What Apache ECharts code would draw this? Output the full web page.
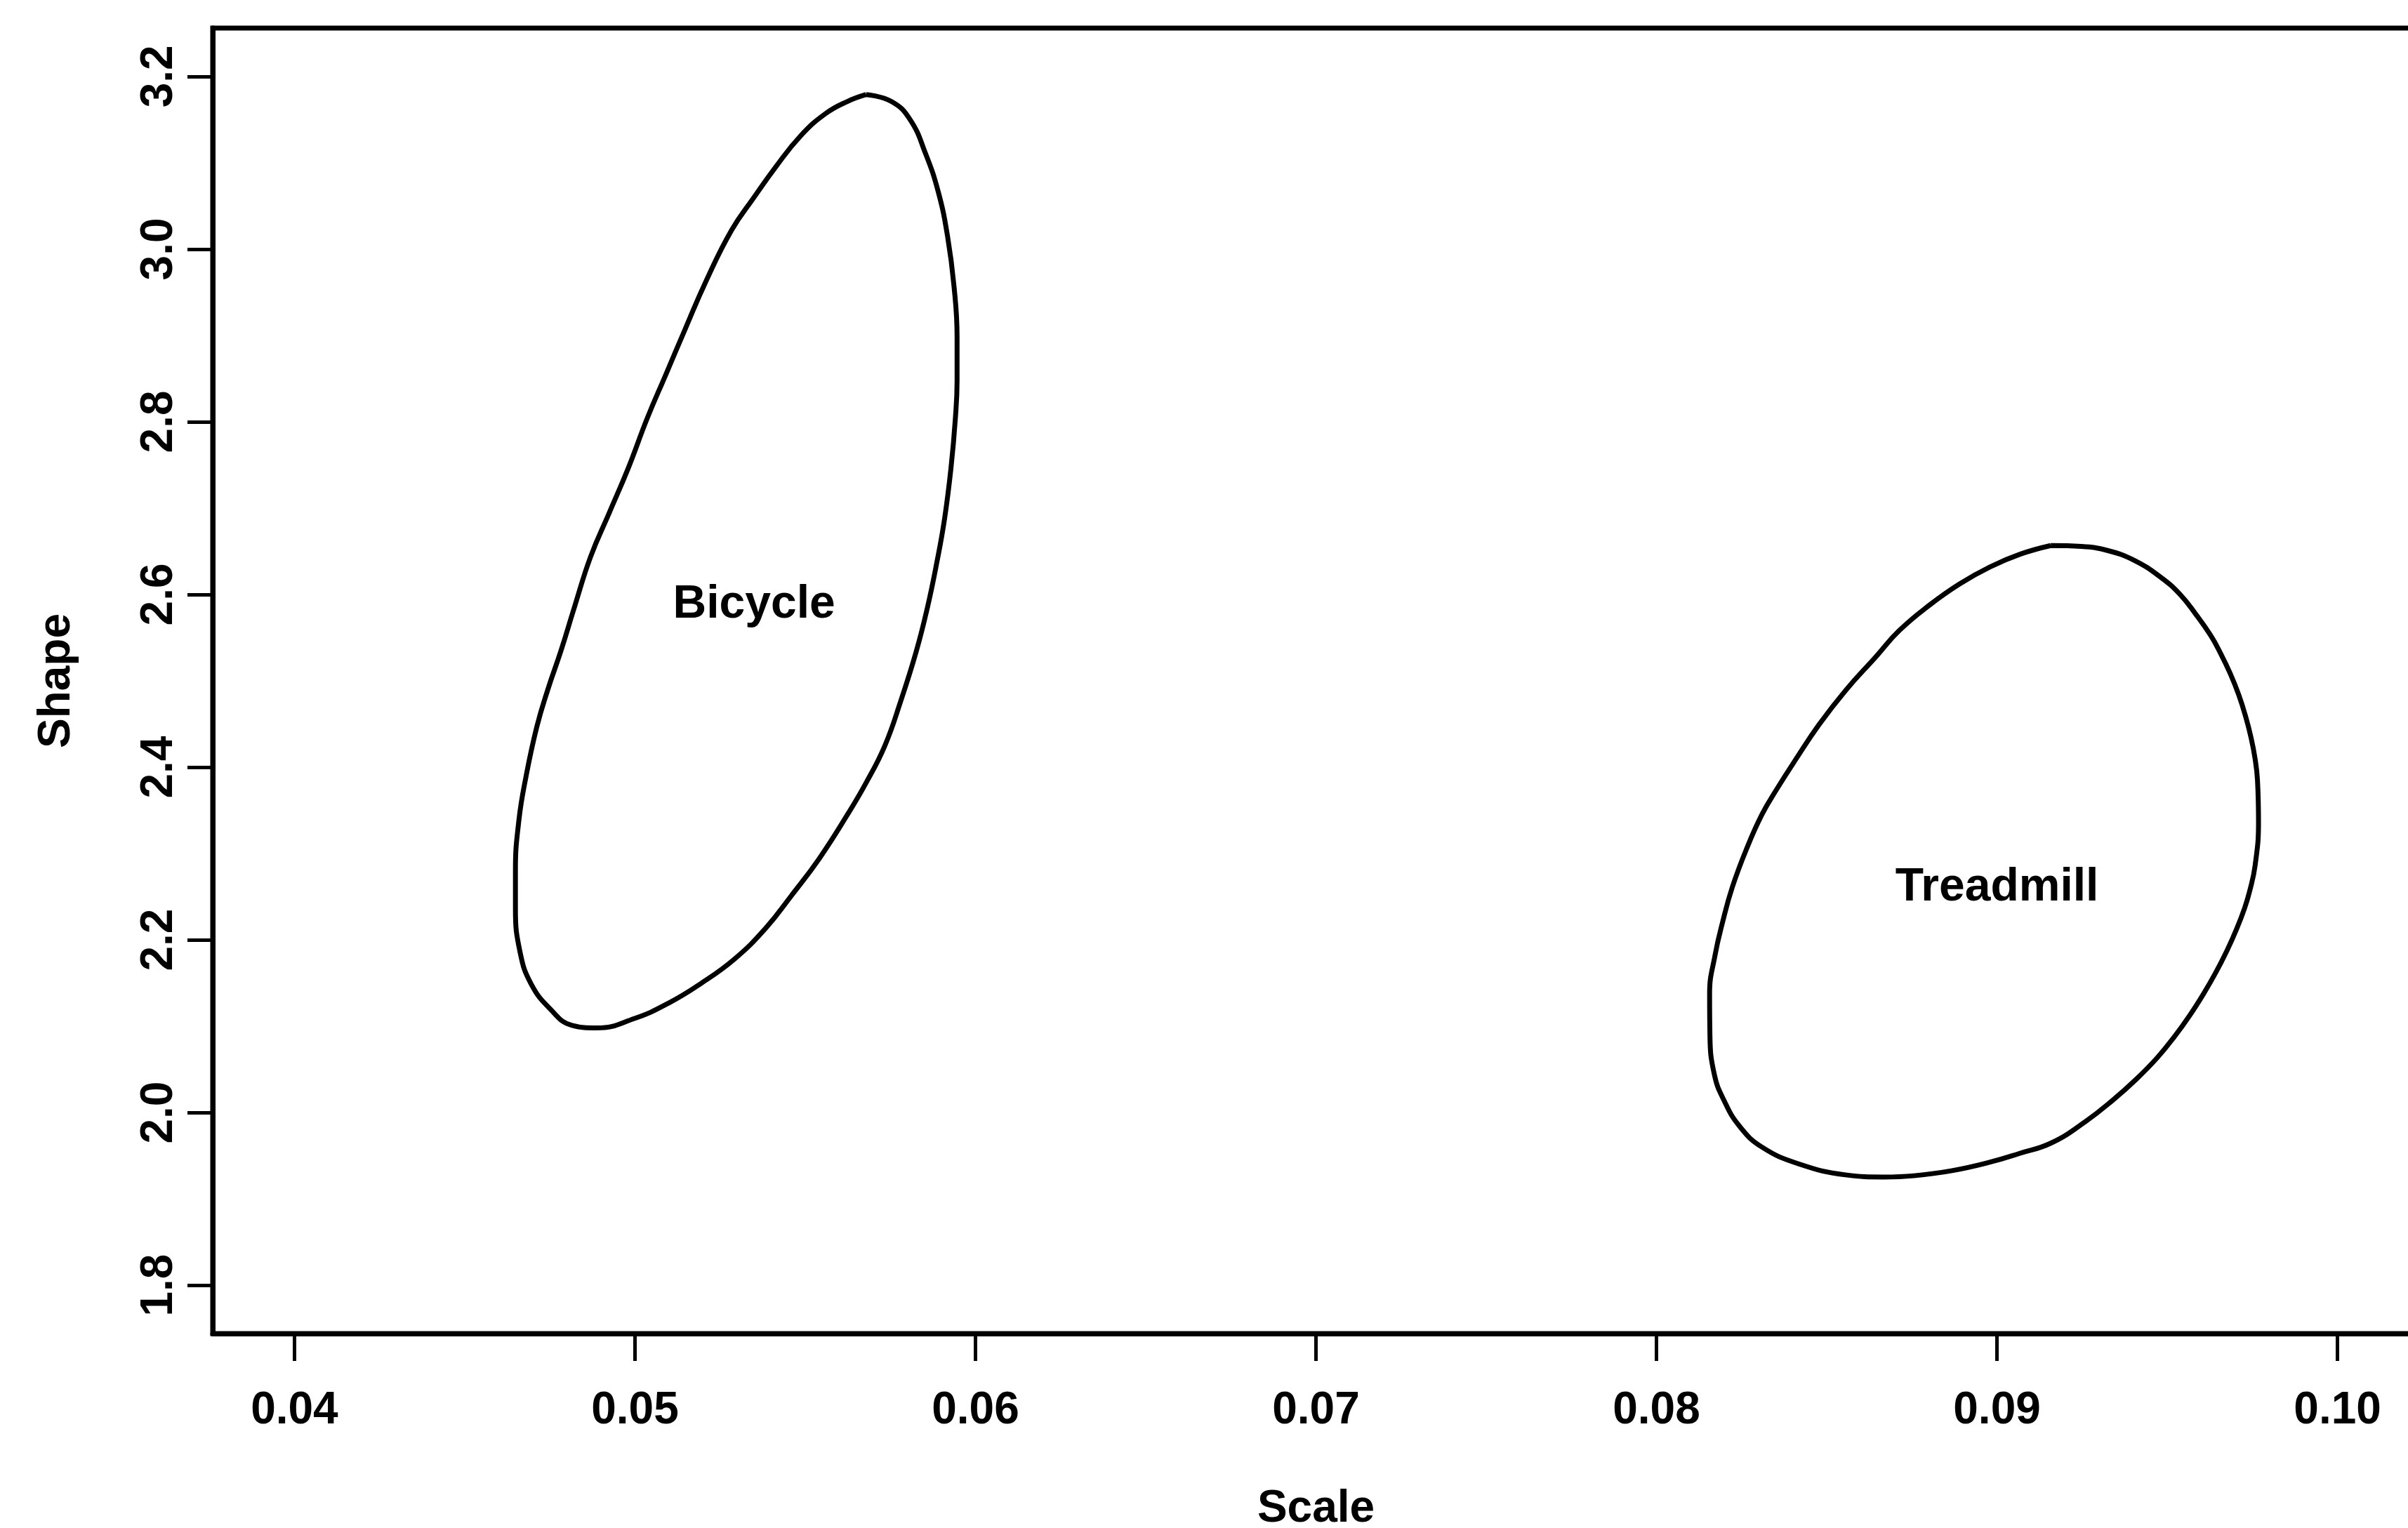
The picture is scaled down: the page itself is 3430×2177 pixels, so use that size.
<!DOCTYPE html>
<html>
<head>
<meta charset="utf-8">
<title>Scale vs Shape</title>
<script src="https://cdn.jsdelivr.net/npm/echarts@6/dist/echarts.min.js"></script>
<style>
  html, body { margin: 0; padding: 0; background: #ffffff; }
  #chart { width: 3430px; height: 2177px; }
</style>
</head>
<body>
<div id="chart"></div>
<script>
// Axis ticks
const xTicks = [0.04, 0.05, 0.06, 0.07, 0.08, 0.09, 0.10];
const yTicks = [1.8, 2.0, 2.2, 2.4, 2.6, 2.8, 3.0, 3.2];

// Confidence contour for the bicycle group (scale, shape), traced clockwise from the top
const bicycleScale = [
  0.05679, 0.05753, 0.05808, 0.05854, 0.05891, 0.05918, 0.05937, 0.05946, 0.05946, 0.05941,
  0.05928, 0.05909, 0.05886, 0.05859, 0.05826, 0.05780, 0.05734, 0.05679, 0.05624, 0.05541,
  0.05459, 0.05385, 0.05293, 0.05192, 0.05100, 0.04999, 0.04888, 0.04815, 0.04751, 0.04695,
  0.04663, 0.04649, 0.04649, 0.04659, 0.04680, 0.04712, 0.04745, 0.04782, 0.04822, 0.04870,
  0.04925, 0.04980, 0.05036, 0.05091, 0.05146, 0.05210, 0.05284, 0.05348, 0.05413, 0.05486,
  0.05560, 0.05624
];
const bicycleShape = [
  3.179, 3.171, 3.150, 3.110, 3.066, 3.015, 2.957, 2.898, 2.848, 2.804,
  2.746, 2.687, 2.636, 2.585, 2.534, 2.476, 2.425, 2.382, 2.345, 2.294,
  2.251, 2.214, 2.178, 2.149, 2.127, 2.109, 2.098, 2.101, 2.120, 2.149,
  2.185, 2.236, 2.280, 2.338, 2.389, 2.447, 2.491, 2.534, 2.585, 2.644,
  2.695, 2.746, 2.804, 2.855, 2.906, 2.964, 3.022, 3.059, 3.095, 3.131,
  3.157, 3.171
];

// Confidence contour for the treadmill group (scale, shape), traced clockwise from the top
const treadmillScale = [
  0.09158, 0.09248, 0.09326, 0.09404, 0.09482, 0.09538, 0.09583, 0.09627, 0.09655, 0.09685,
  0.09710, 0.09730, 0.09746, 0.09758, 0.09765, 0.09768, 0.09758, 0.09742, 0.09727, 0.09703,
  0.09675, 0.09643, 0.09607, 0.09567, 0.09522, 0.09471, 0.09410, 0.09340, 0.09260, 0.09160,
  0.09065, 0.08980, 0.08868, 0.08756, 0.08667, 0.08555, 0.08421, 0.08310, 0.08243, 0.08198,
  0.08170, 0.08157, 0.08156, 0.08172, 0.08195, 0.08223, 0.08265, 0.08310, 0.08354, 0.08410,
  0.08477, 0.08555, 0.08645, 0.08712, 0.08801, 0.08890, 0.08980, 0.09069
];
const treadmillShape = [
  2.6567, 2.6557, 2.6508, 2.6394, 2.6196, 2.5999, 2.5776, 2.5529, 2.5331, 2.5084,
  2.4837, 2.4590, 2.4343, 2.4096, 2.3849, 2.3355, 2.2861, 2.2564, 2.2366, 2.2119,
  2.1872, 2.1625, 2.1378, 2.1131, 2.0884, 2.0637, 2.0390, 2.0143, 1.9896, 1.9649,
  1.9525, 1.9426, 1.9327, 1.9268, 1.9253, 1.9278, 1.9401, 1.9599, 1.9846, 2.0143,
  2.0439, 2.0884, 2.1378, 2.1823, 2.2218, 2.2614, 2.3058, 2.3454, 2.3750, 2.4096,
  2.4491, 2.4887, 2.5282, 2.5579, 2.5875, 2.6122, 2.6320, 2.6468
];

// Group labels placed inside each contour
const groupNames = ['Bicycle', 'Treadmill'];
const labelScale = [0.05350, 0.09000];
const labelShape = [2.588, 2.260];

// Join scale/shape pairs and close the loop
function closedLoop(xs, ys) {
  const pts = xs.map((x, i) => [x, ys[i]]);
  pts.push(pts[0].slice());
  return pts;
}

const FONT = '"Liberation Sans", Arial, Helvetica, sans-serif';
const INK = '#000000';

const chart = echarts.init(document.getElementById('chart'), null, { renderer: 'canvas' });

const contourStyle = {
  type: 'line',
  smooth: 0.45,
  showSymbol: false,
  symbol: 'none',
  silent: true,
  lineStyle: { color: INK, width: 7 },
  z: 3
};

chart.setOption({
  animation: false,
  backgroundColor: '#ffffff',
  grid: {
    left: 303,
    right: -16,
    top: 40,
    bottom: 277,
    outerBoundsMode: 'none',
    show: true,
    borderColor: INK,
    borderWidth: 7,
    backgroundColor: 'transparent'
  },
  xAxis: {
    type: 'value',
    min: 0.0376,
    max: 0.1024,
    name: 'Scale',
    nameLocation: 'middle',
    nameGap: 218,
    nameTextStyle: { color: INK, fontSize: 64, fontWeight: 'bold', fontFamily: FONT },
    axisLine: { show: true, onZero: false, lineStyle: { color: INK, width: 7 } },
    axisTick: { show: true, customValues: xTicks, length: 39, lineStyle: { color: INK, width: 5 } },
    axisLabel: {
      customValues: xTicks,
      margin: 78,
      color: INK,
      fontSize: 64,
      fontWeight: 'bold',
      fontFamily: FONT,
      formatter: v => Number(v).toFixed(2)
    },
    splitLine: { show: false }
  },
  yAxis: {
    type: 'value',
    min: 1.744,
    max: 3.256,
    name: 'Shape',
    nameLocation: 'middle',
    nameGap: 190,
    nameTextStyle: { color: INK, fontSize: 64, fontWeight: 'bold', fontFamily: FONT },
    axisLine: { show: true, onZero: false, lineStyle: { color: INK, width: 7 } },
    axisTick: { show: true, customValues: yTicks, length: 36, lineStyle: { color: INK, width: 5 } },
    axisLabel: {
      customValues: yTicks,
      rotate: 90,
      margin: 44,
      color: INK,
      fontSize: 64,
      fontWeight: 'bold',
      fontFamily: FONT,
      formatter: v => Number(v).toFixed(1)
    },
    splitLine: { show: false }
  },
  series: [
    Object.assign({ name: 'Bicycle', data: closedLoop(bicycleScale, bicycleShape) }, contourStyle),
    Object.assign({ name: 'Treadmill', data: closedLoop(treadmillScale, treadmillShape) }, contourStyle),
    {
      type: 'scatter',
      name: 'labels',
      silent: true,
      symbolSize: 1,
      itemStyle: { color: 'rgba(0,0,0,0)' },
      z: 4,
      label: {
        show: true,
        position: 'inside',
        formatter: p => p.name,
        color: INK,
        opacity: 1,
        textBorderWidth: 0,
        fontSize: 66,
        fontWeight: 'bold',
        fontFamily: FONT
      },
      data: groupNames.map((n, i) => ({ name: n, value: [labelScale[i], labelShape[i]] }))
    }
  ]
});
</script>
</body>
</html>
